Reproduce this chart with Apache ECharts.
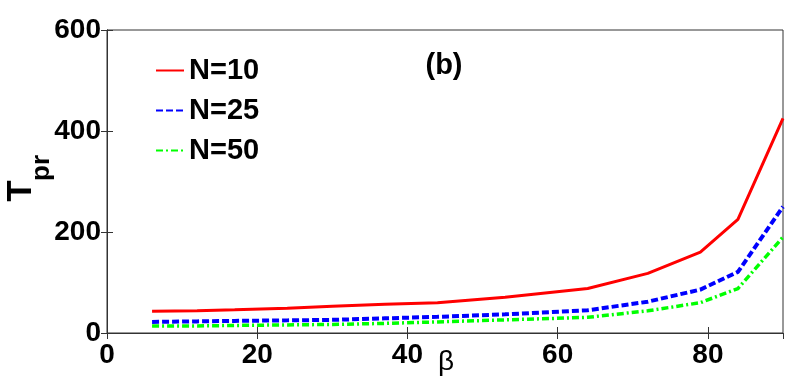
<!DOCTYPE html>
<html>
<head>
<meta charset="utf-8">
<script src="https://cdn.jsdelivr.net/npm/echarts@6/dist/echarts.min.js"></script>
<style>
  html, body { margin: 0; padding: 0; background: #fff; }
  #chart { width: 800px; height: 390px; }
</style>
</head>
<body>
<div id="chart"></div>
<script>
// beta values (x) and T_pr for each N
const beta = [6, 12, 17, 24, 30, 37, 44, 53, 64, 72, 79, 84, 90];
const n10 = [43, 44, 46, 49, 53, 57, 60, 71, 88, 118, 160, 225, 425];
const n25 = [22, 23, 24, 25, 26, 29, 32, 37, 45, 62, 86, 121, 250];
const n50 = [14, 14, 15, 16, 17, 19, 22, 26, 31, 44, 60, 88, 190];
const seriesNames = ['N=10', 'N=25', 'N=50'];
const yTicks = [0, 200, 400, 600];

const chart = echarts.init(document.getElementById('chart'));

const toPairs = (ys) => beta.map((b, i) => [b, ys[i]]);
const FONT = 'Liberation Sans, Arial, sans-serif';
const axisFont = { fontFamily: FONT, fontWeight: 'bold', fontSize: 28, color: '#000' };

const lineSeries = (name, ys, color, type, width) => ({
  name: name,
  type: 'line',
  data: toPairs(ys),
  symbol: 'none',
  lineStyle: { color: color, width: width, type: type },
  itemStyle: { color: color },
  z: 3
});

const options = {
  animation: false,
  grid: { left: 107, right: 17, top: 30, bottom: 57, show: true, borderColor: '#333', borderWidth: 1 },
  legend: {
    orient: 'vertical',
    left: 150,
    top: 51,
    itemWidth: 28,
    itemHeight: 14,
    itemGap: 11,
    itemStyle: { opacity: 0 },
    textStyle: { fontFamily: FONT, fontWeight: 'bold', fontSize: 29, color: '#000' },
    data: seriesNames
  },
  xAxis: [
    {
      type: 'value', min: 0, max: 90, interval: 20,
      axisLine: { lineStyle: { color: '#333' } },
      axisTick: { inside: true, length: 6, lineStyle: { color: '#333' } },
      splitLine: { show: false },
      axisLabel: { ...axisFont, margin: 8, showMaxLabel: false }
    },
    {
      type: 'value', min: 0, max: 90, interval: 20, position: 'top',
      axisLine: { lineStyle: { color: '#333' } },
      axisTick: { inside: true, length: 6, lineStyle: { color: '#333' } },
      splitLine: { show: false },
      axisLabel: { show: false }
    }
  ],
  yAxis: [
    {
      type: 'value', min: yTicks[0], max: yTicks[yTicks.length - 1], interval: 200,
      axisLine: { show: true, lineStyle: { color: '#333' } },
      axisTick: { show: true, inside: true, length: 6, lineStyle: { color: '#333' } },
      splitLine: { show: false },
      axisLabel: { ...axisFont, margin: 6 }
    },
    {
      type: 'value', min: yTicks[0], max: yTicks[yTicks.length - 1], interval: 200, position: 'right',
      axisLine: { show: true, lineStyle: { color: '#333' } },
      axisTick: { show: true, inside: true, length: 6, lineStyle: { color: '#333' } },
      splitLine: { show: false },
      axisLabel: { show: false }
    }
  ],
  graphic: [
    {
      type: 'text', x: 21, y: 191, rotation: Math.PI / 2,
      style: { text: 'T', fontFamily: FONT, fontWeight: 'bold', fontSize: 35, fill: '#000', textAlign: 'center', textVerticalAlign: 'middle' }
    },
    {
      type: 'text', x: 42, y: 168, rotation: Math.PI / 2,
      style: { text: 'pr', fontFamily: FONT, fontWeight: 'bold', fontSize: 26, fill: '#000', textAlign: 'center', textVerticalAlign: 'middle' }
    },
    {
      type: 'text', x: 446, y: 362,
      style: { text: 'β', fontFamily: FONT, fontSize: 28, fill: '#000', textAlign: 'center', textVerticalAlign: 'middle' }
    },
    {
      type: 'text', x: 444, y: 66,
      style: { text: '(b)', fontFamily: FONT, fontWeight: 'bold', fontSize: 29, fill: '#000', textAlign: 'center', textVerticalAlign: 'middle' }
    }
  ],
  series: [
    lineSeries(seriesNames[0], n10, '#ff0000', 'solid', 3),
    lineSeries(seriesNames[1], n25, '#0000ff', [7, 3], 4),
    lineSeries(seriesNames[2], n50, '#00ff00', [7, 3, 2, 3], 3.5)
  ]
};

chart.setOption(options);
</script>
</body>
</html>
